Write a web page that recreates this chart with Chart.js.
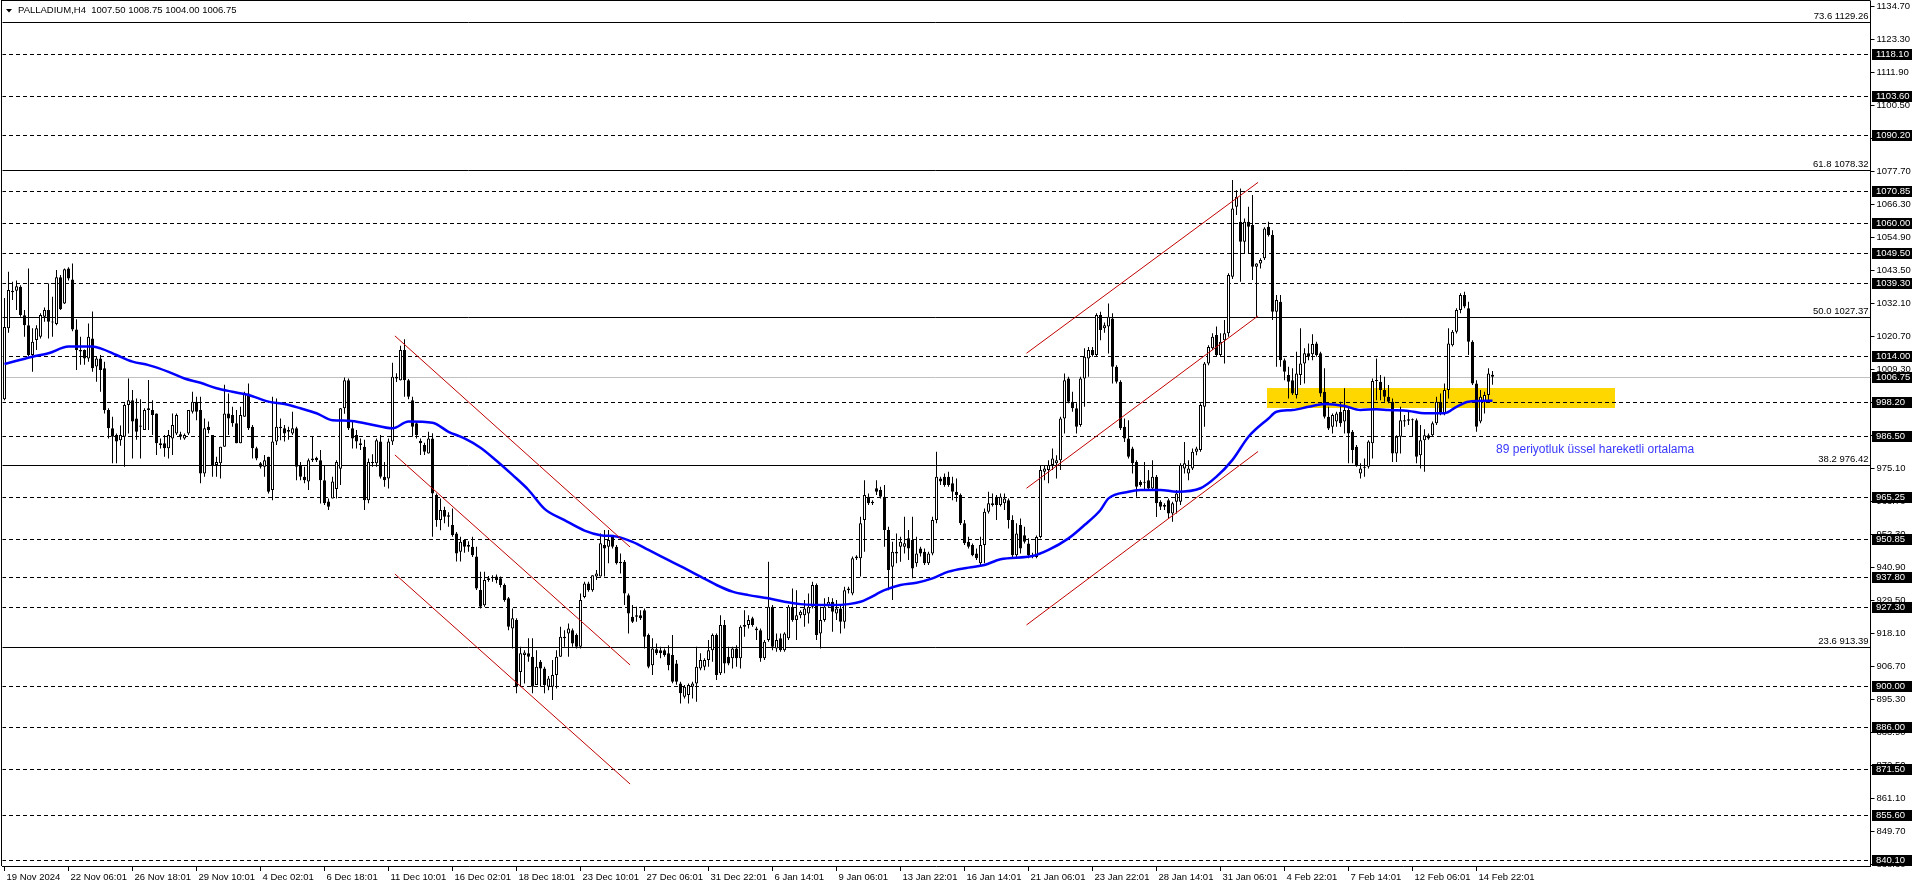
<!DOCTYPE html>
<html>
<head>
<meta charset="utf-8">
<title>PALLADIUM,H4</title>
<script src="https://cdn.jsdelivr.net/npm/chart.js@4.4.1/dist/chart.umd.min.js"></script>
<style>
  html, body { margin: 0; padding: 0; background: #fff; overflow: hidden; }
  canvas { display: block; }
</style>
</head>
<body>
<canvas id="chart" width="1916" height="888"></canvas>
<script>
// H4 candles, 19 Nov 2024 -> 14 Feb 2025
const opens = [
  999, 1023.5, 1036.5, 1036.5, 1037.9, 1028, 1024.6, 1014.3, 1019.5, 1020.6,
  1027.5, 1029.8, 1025.8, 1025, 1041.1, 1032.1, 1044.2, 1040.4, 1023.1, 1016,
  1016, 1013.1, 1020, 1010.3, 1013.1, 1009.7, 995.3, 989, 986.7, 984.9,
  986.1, 997, 998.7, 992.4, 990, 988.4, 995.3, 995.3, 994.1, 983.8,
  983.8, 982.1, 985.5, 987.2, 986.9, 985.5, 987.2, 994.7, 998.2, 995.3,
  973.4, 989.5, 986.7, 976.3, 976.9, 982.6, 994.1, 993.6, 990.7, 983.8,
  993, 1001, 989.5, 982.1, 976.9, 975.7, 979.2, 967.7, 984.4, 989,
  989, 988.4, 987.2, 989, 976.3, 972.3, 970.6, 978, 978.8, 978,
  971.1, 963.7, 964.8, 968, 975, 995.9, 1005.6, 989, 986.7, 983.8,
  982.6, 964.2, 977.4, 976.9, 984.4, 972.3, 971.7, 984.4, 1006.8, 1005.6,
  1016, 1005.6, 998.7, 990.7, 984.7, 983.2, 980.3, 985.5, 966, 957.3,
  960.8, 958.5, 955.6, 952.7, 946.4, 950.4, 948.1, 948.1, 944.7, 933.2,
  927.9, 936.6, 937.2, 937.8, 937.2, 934.9, 930.3, 919.9, 922.8, 904.9,
  910.7, 911.3, 910.1, 900.4, 908.4, 906.1, 899.8, 899.8, 903.8, 910.1,
  916.5, 918.2, 919.3, 917.6, 913.6, 930.8, 935.4, 933.1, 937.8, 937.8,
  948.7, 948.1, 951.6, 948.1, 942.9, 942.9, 931.4, 923.9, 923.9, 924.5,
  926.2, 917.6, 907.2, 912.7, 912.4, 912.4, 911.3, 910.7, 907.8, 900.9,
  896.3, 896.9, 899.8, 900.9, 906.1, 906.7, 909, 912.4, 917.6, 904.4,
  921.1, 910.1, 909.6, 913, 909.6, 920.5, 921.1, 923.4, 919.9, 919.3,
  909.6, 915.9, 927.4, 913, 916.5, 912.4, 916.5, 927.4, 922.8, 924.5,
  924.5, 925.1, 927.4, 934.9, 918.2, 922.8, 928, 929.1, 925.1, 926.8,
  922.2, 933.1, 932, 944.1, 944.1, 957.3, 965.4, 963.6, 968.3, 967.7,
  965.4, 953.9, 941.2, 945.8, 948.1, 948.1, 951, 950.4, 942.4, 947.5,
  946.4, 942.4, 945.8, 957.3, 971.7, 972.3, 972.3, 970, 967.1, 966,
  956.2, 949.8, 948.7, 945.8, 942.4, 948.7, 960.2, 962.5, 965.4, 962.5,
  963.1, 964.2, 957.3, 945.2, 955.6, 952.1, 949.2, 945.2, 944.6, 951.5,
  974, 974.6, 976.3, 976.9, 978, 992.4, 1006.2, 998.2, 995.9, 990.1,
  1006.2, 1013.1, 1016, 1014.3, 1028.1, 1023.5, 1024.1, 1026.9, 1010.2, 1005.1,
  989.5, 985.5, 982, 977.4, 970.5, 970.2, 971.1, 968.2, 972.3, 963.6,
  962.5, 964.2, 959.6, 963.6, 963.6, 975.1, 973.4, 975.1, 980.9, 981.5,
  996.4, 1011.4, 1016.6, 1021.2, 1014.3, 1019.4, 1021.8, 1041.3, 1065.5, 1060.3,
  1053.4, 1060.3, 1059.2, 1044.8, 1045.9, 1047.7, 1058.6, 1055.7, 1029.2, 1032.7,
  1012.5, 1007.4, 1005.6, 1000.5, 1007.4, 1011.4, 1014.9, 1014.6, 1018.3, 1014.9,
  1001.6, 993, 989.5, 991.3, 994.7, 991.3, 995.3, 987.8, 982.6, 973.4,
  975.4, 975.7, 983.8, 1005.3, 1005.1, 1002.2, 999.9, 998.2, 980.3, 986.1,
  991.3, 991.6, 992.1, 991.8, 979.7, 984.9, 986.6, 986.6, 990.7, 998.2,
  994.1, 1002.2, 1017.7, 1022.3, 1029.8, 1035, 1030.4, 1018.9, 1004.5, 991.3,
  998.2, 1000.5, 1007.5
]
const highs = [
  1034, 1043, 1039.6, 1040, 1038.4, 1029.8, 1044.2, 1023.5, 1024.6, 1028.7,
  1030.7, 1039, 1034.4, 1043.6, 1041.9, 1044.2, 1044.6, 1045.9, 1026.6, 1020.6,
  1016.2, 1025.2, 1029.3, 1013.7, 1014.3, 1012, 995.9, 993, 987.2, 990,
  997.6, 1006.2, 1002.2, 999.3, 999, 995.9, 1005.7, 998.7, 994.1, 985.5,
  986.7, 988.4, 994.1, 994.1, 987.8, 987.2, 995.3, 1001.6, 999.9, 999.9,
  992.4, 991.3, 986.7, 979.2, 982.6, 1004, 1001, 996.4, 995.3, 996.4,
  1001.6, 1004.5, 990.1, 982.6, 977.4, 979.8, 979.2, 999.9, 999.3, 992.4,
  990.1, 989.5, 994.7, 989.5, 977.4, 975.7, 978.6, 986, 979.2, 981.5,
  976.3, 964.8, 972.3, 978, 996, 1006.5, 1006.2, 991.3, 988.4, 985.5,
  985, 978.6, 980, 985.5, 986.7, 977.4, 985.5, 1011.6, 1008, 1017.5,
  1019.7, 1006, 999.9, 991.3, 985.5, 984, 987.8, 987.3, 966.5, 964.8,
  961.9, 960, 961.3, 953.2, 951.6, 950.4, 950, 951.6, 948.1, 939.5,
  939.5, 938, 938.3, 938.5, 937.8, 935.4, 930.8, 926.8, 923.4, 913.6,
  912.4, 916.5, 916.5, 912.4, 909, 906.7, 903.5, 909, 912.4, 920.5,
  919.3, 921.6, 919.9, 918.2, 932, 936, 936, 938.3, 940.1, 952.7,
  953.9, 953.9, 952.2, 948.7, 945.8, 943.5, 932, 928, 927.4, 926.2,
  926.8, 918.2, 916.5, 914.7, 913.6, 913, 914.1, 917.6, 909, 901.5,
  900.4, 900.9, 901.5, 913.6, 911.3, 909.6, 915.9, 918.2, 918.2, 924.5,
  922.8, 913.6, 913.6, 914.1, 921, 926.2, 924.5, 923.9, 920.5, 919.9,
  915.9, 942.9, 928, 918.2, 918.2, 918.6, 928, 933.7, 933.1, 926.2,
  929.7, 932, 936, 935.4, 927.4, 930.3, 930.8, 930.3, 929.7, 928,
  934.3, 934.3, 944.7, 945.2, 958.5, 971.1, 966.5, 964.2, 971.1, 968.8,
  969.4, 955, 949.8, 952.7, 951.6, 958.5, 953.9, 958.5, 951.6, 948.1,
  947.5, 946.4, 958.5, 980.9, 972.3, 973.4, 974, 972.3, 971.7, 966.5,
  957.3, 951.6, 949.2, 947.5, 951.6, 961.3, 967.1, 966.5, 966, 966.5,
  966.5, 964.8, 959, 956.2, 957.9, 955, 951, 946, 952, 976.3,
  976.3, 978, 982, 979.7, 993, 1007.9, 1006.8, 1001.6, 997.6, 1006.8,
  1016.6, 1017.1, 1017.1, 1028.7, 1029.2, 1025.5, 1032.1, 1028.7, 1010.8, 1005.6,
  992.4, 991.8, 982.6, 978, 971.1, 977.4, 974.6, 978, 972.9, 964.2,
  963.1, 964.8, 963.6, 967.7, 976.9, 984.3, 978, 982, 982.6, 997.6,
  1011.9, 1017.7, 1021.8, 1024.1, 1021.8, 1026.4, 1042.5, 1074.7, 1071.2, 1071.8,
  1061.4, 1065.5, 1069.5, 1046, 1047.7, 1058.4, 1060.3, 1057.4, 1035, 1035,
  1013.1, 1010.2, 1009.7, 1015.4, 1023.5, 1016.6, 1018.3, 1021.5, 1018.9, 1015.4,
  1009.7, 996.4, 994.1, 994.7, 998.2, 1002.8, 996.4, 988.4, 983.2, 976.9,
  978.6, 984.9, 1006.2, 1013.1, 1007.4, 1006.8, 1003.9, 999.3, 986.6, 996.4,
  993.6, 995.3, 992.4, 992.4, 990.1, 988.7, 987.2, 991.3, 999.9, 1001,
  1004.5, 1023.5, 1022.9, 1030.4, 1035.6, 1036.1, 1032.7, 1019.4, 1005.6, 1002.2,
  1001.6, 1009.7, 1008.75
]
const lows = [
  998.7, 1022, 1033.3, 1029.8, 1027.5, 1020.6, 1013.8, 1008.5, 1016, 1020,
  1025.8, 1020, 1020.6, 1024.6, 1029.8, 1031.9, 1040, 1022.5, 1009.1, 1010.9,
  1010.9, 1012, 1008.5, 1005.1, 1001.6, 994.1, 985.5, 976.9, 976.9, 983,
  975.7, 987.2, 978.6, 985, 978.6, 988.4, 988.4, 986.7, 979.8, 982,
  979.2, 978.6, 979.8, 986.7, 985, 985, 986.7, 994.1, 991.8, 970,
  972.3, 987.2, 972.3, 972.3, 971.7, 982.6, 986.7, 989.5, 983.8, 983.8,
  993, 988.4, 978.6, 978, 975.1, 972.3, 966.5, 964.2, 983.2, 984.9,
  984.4, 985, 986.7, 971.1, 971.1, 970, 967.7, 977.4, 977.4, 963,
  962.5, 960.8, 964.8, 964.8, 969.4, 994, 988.4, 982, 982, 981.5,
  960.8, 963.1, 975.7, 975.7, 971.7, 968.8, 968.2, 983.2, 1005, 1005.5,
  999.9, 999, 986.1, 985.5, 979.8, 979.8, 980.3, 951.6, 955, 953.8,
  956.2, 955, 951.6, 943, 943, 946, 946.4, 944.6, 933.2, 926.8,
  927.4, 936, 936, 935.5, 934, 929.1, 919.3, 913, 897.5, 899.8,
  900.9, 908.4, 897.5, 900.4, 899.8, 897.5, 898.6, 895.2, 899.2, 910.1,
  913.6, 910.1, 913.6, 913, 913, 930.3, 932.6, 932.6, 936.6, 937.8,
  937.8, 942.4, 947.5, 942, 938.9, 928, 918.2, 921.8, 922.2, 922.8,
  913, 906.2, 903.8, 910.7, 909.6, 910.1, 905.5, 901, 900.5, 894,
  895.7, 894, 895.7, 894.6, 905.5, 905.5, 906.7, 908.4, 902.1, 903.8,
  904.4, 907.2, 906.1, 906.7, 906.1, 917, 919.9, 920.5, 915.9, 908.4,
  909, 915.3, 912.4, 911.9, 911.9, 911.9, 915.9, 922.2, 915.9, 923.4,
  920.5, 921.6, 926.8, 915.9, 913, 922.2, 927.4, 918.8, 922.8, 918.2,
  919.9, 932, 931.4, 943.5, 937.8, 946.4, 962.5, 962.5, 966, 964.8,
  948.1, 933.1, 929.7, 942.4, 942.9, 945.8, 943.5, 937.2, 941.2, 944.7,
  941.8, 941.8, 945.2, 956.2, 969.4, 968.8, 968.8, 964.2, 963.6, 955.6,
  948.7, 947.5, 944.8, 943.5, 941.8, 942.4, 959.6, 962, 957.3, 962,
  960.8, 954.4, 944.6, 944.6, 945.8, 949.2, 944.1, 944.1, 944.1, 951,
  971.1, 970, 974.6, 971.7, 974.6, 987.2, 997.6, 994.7, 987.2, 989.5,
  996.4, 1006.8, 1013.7, 1013.7, 1019.4, 1022, 1014.8, 1004.5, 1004.5, 988.4,
  984.3, 978.6, 973.4, 965.4, 968.8, 967.7, 967.7, 967.7, 958.4, 960.8,
  960.8, 957.9, 956.7, 959.6, 962.5, 973.4, 971.1, 974.6, 979.7, 980.9,
  989.5, 1010.8, 1016, 1013.7, 1013.7, 1011.4, 1020.6, 1040.5, 1062.6, 1039.6,
  1049.4, 1049.4, 1040.2, 1027.5, 1044.2, 1047.1, 1055.2, 1026.4, 1010.2, 1010.2,
  1005.6, 999.3, 1000.5, 999.3, 1003.9, 1004.5, 1012.5, 1012.5, 1013.7, 999.9,
  992.4, 988.4, 987.2, 989.5, 989.5, 987.2, 976.9, 976.9, 975.7, 971.7,
  972.3, 975.1, 978.6, 998.7, 998.7, 998.2, 997.6, 977.4, 977.4, 980.3,
  989.5, 990.1, 986.1, 976.9, 975.1, 974, 985, 986.1, 990.1, 993.5,
  993.5, 999.3, 1017.2, 1021.7, 1028.7, 1030.4, 1014.3, 1003.9, 987.8, 990.7,
  994.1, 998.7, 1004
]
const closes = [
  1024, 1036.7, 1036, 1038, 1028.1, 1024.6, 1014.3, 1018.9, 1023.5, 1028.1,
  1029.8, 1025.8, 1025.5, 1041.1, 1030.1, 1043.9, 1040.7, 1023.1, 1016, 1015.5,
  1013.1, 1020.6, 1009.7, 1013.1, 1009.1, 995.3, 989, 986.1, 984.4, 986.7,
  997, 998.7, 991.3, 987.8, 989.5, 995.3, 995.9, 993.6, 983.8, 983.2,
  982.1, 986.7, 990.1, 993.6, 986.1, 986.7, 995.3, 998.2, 994.7, 973.4,
  989, 988.4, 976.3, 977.4, 982.6, 994.1, 992.4, 990.7, 983.8, 993.6,
  1001, 989, 982.1, 978.6, 975.7, 978, 967.1, 984.4, 989.5, 989.5,
  987.2, 987.8, 989, 975.7, 972.3, 971.1, 978, 978.6, 978, 971.1,
  963.1, 961.9, 970.6, 977.4, 995.9, 1005.6, 989, 985.5, 984.4, 983.2,
  964.2, 977.4, 976.9, 984.9, 972.3, 971.1, 984.4, 1006.8, 1006.2, 1016,
  1005.6, 999.9, 989.5, 986.7, 983.8, 980.9, 985.5, 966.5, 957.3, 960.8,
  958.5, 959, 952.2, 945.8, 949.8, 948.1, 948.7, 945.2, 933.7, 927.4,
  936.6, 937.2, 937.7, 936.6, 934.9, 929.7, 920.5, 923.4, 899.8, 911.3,
  911.6, 910.1, 899.8, 906.7, 906.1, 900.4, 902.6, 903.8, 910.1, 917,
  917, 919.9, 914.7, 913.6, 929.7, 935.4, 933.1, 938.3, 938.9, 949.3,
  947.5, 950.4, 948.1, 942.4, 942.4, 932, 925.1, 922.2, 924.5, 923.4,
  917, 906.7, 913, 911.3, 911.3, 910.7, 907.2, 901.5, 901.5, 897.5,
  899.8, 900.4, 900.9, 906.7, 909, 909, 912.4, 917.6, 903.8, 921.1,
  907.8, 907.8, 913, 909.6, 920.5, 921.1, 922.8, 921.1, 919.3, 909.6,
  915.3, 927.4, 913.6, 915.9, 912.4, 918.2, 927.4, 922.8, 924.5, 925.7,
  926.8, 927.4, 934.9, 917.6, 922.8, 927.4, 929.1, 925.7, 926.8, 922.2,
  933.1, 933.7, 944.1, 944.7, 956.2, 966, 963.1, 963.1, 967.1, 965.4,
  953.9, 940.1, 946.4, 946.4, 949.8, 949.3, 947.5, 940.6, 945.8, 945.8,
  942.4, 945.8, 957.3, 972.3, 970.6, 969.4, 969.4, 967.1, 966, 956.2,
  949.3, 948.1, 945.2, 944.1, 948.7, 960.2, 963.1, 963.1, 962.5, 965.4,
  964.8, 957.3, 945.2, 952.7, 947.5, 949.8, 945.2, 944.6, 951.5, 974.6,
  975.1, 976.3, 978.6, 978, 992.4, 1005.6, 998.2, 995.9, 989.5, 1006.2,
  1013.7, 1016, 1014.3, 1028.1, 1022.9, 1024.6, 1027.5, 1010.2, 1005.1, 989,
  985.5, 979.2, 976.9, 968.8, 969.4, 970.5, 968.2, 972.3, 963.1, 961.9,
  961.9, 959.6, 963.1, 966.5, 976.3, 976.9, 975.1, 980.9, 982, 997,
  1011.4, 1017.1, 1020.6, 1014.3, 1018.9, 1021.8, 1041.9, 1064.9, 1068.9, 1053.4,
  1060.3, 1058.6, 1044.8, 1045.9, 1047.1, 1058, 1055.7, 1029.2, 1033.3, 1012.5,
  1008.5, 1005.1, 1001, 1007.9, 1011.4, 1014.9, 1013.7, 1018.1, 1014.3, 1001,
  993, 988.9, 993.6, 994.1, 990.7, 995.3, 987.2, 981.5, 976.3, 975.1,
  975.7, 984.4, 1005.3, 1005.6, 1002.2, 999.9, 998.2, 980.3, 986.1, 991.8,
  991.8, 992.1, 991.8, 979.2, 984.9, 986.6, 985.5, 990.7, 998.2, 994.1,
  1002.2, 1018.3, 1022.3, 1029.8, 1035, 1031, 1018.9, 1004.5, 989.5, 999.9,
  1000.5, 1007.9, 1006.75
]

// 89 period EMA at these bars
const emaBars = [0, 7, 11, 16, 22, 24, 28, 32, 36, 41, 45, 49, 53, 57, 61, 66, 70, 74, 78, 82,
  86, 91, 97, 101, 107, 111, 115, 119, 123, 127, 131, 135, 140, 145, 149, 153, 157, 161, 166, 170,
  174, 178, 182, 186, 191, 195, 199, 207, 211, 214, 216, 220, 224, 228, 232, 236, 241, 245, 249, 257,
  261, 266, 270, 274, 276, 281, 284, 289, 293, 299, 303, 307, 311, 316, 318, 322, 326, 330, 335, 339,
  343, 346, 351, 355, 360, 363, 366, 372]
const emaValues = [1011.2, 1013.7, 1014.9, 1017.2, 1017.2, 1016.6, 1014.3, 1012, 1010.8, 1008.5,
  1006.2, 1004.7, 1002.8, 1001.6, 1000.5, 998.2, 997.4, 995.9, 994.2, 991.8,
  991.6, 990.5, 989, 991.3, 990.9, 987.8, 985.5, 982.3, 977.8, 972.9,
  967.7, 961.2, 957.3, 953.7, 952.1, 951.6, 949.8, 947, 943.5, 940.7,
  937.8, 934.9, 932.6, 931.4, 930.3, 929.1, 928.3, 928, 928.3, 929.1,
  930.3, 933.1, 934.9, 935.7, 937.2, 939.5, 940.9, 941.8, 943.8, 944.9,
  947, 951, 955.6, 960.8, 964.8, 967.1, 967.7, 967.7, 967.1, 968.3,
  972.3, 978.1, 986.1, 992.4, 994.7, 995.3, 996.4, 997.4, 996.7, 995.3,
  995.6, 995.3, 995, 994.2, 994.2, 996.4, 998.2, 998.5]

const timeLabels = ['19 Nov 2024', '22 Nov 06:01', '26 Nov 18:01', '29 Nov 10:01', '4 Dec 02:01',
  '6 Dec 18:01', '11 Dec 10:01', '16 Dec 02:01', '18 Dec 18:01', '23 Dec 10:01', '27 Dec 06:01',
  '31 Dec 22:01', '6 Jan 14:01', '9 Jan 06:01', '13 Jan 22:01', '16 Jan 14:01', '21 Jan 06:01',
  '23 Jan 22:01', '28 Jan 14:01', '31 Jan 06:01', '4 Feb 22:01', '7 Feb 14:01', '12 Feb 06:01',
  '14 Feb 22:01']
const labelStep = 16
const slotCount = 467

const priceTicks = [1134.70, 1123.30, 1111.90, 1100.50, 1089.10, 1077.70, 1066.30, 1054.90,
  1043.50, 1032.10, 1020.70, 1009.30, 997.90, 986.50, 975.10, 963.70, 952.30, 940.90, 929.50,
  918.10, 906.70, 895.30, 883.90, 872.50, 861.10, 849.70, 838.30]
const hLevels = [1118.10, 1103.60, 1090.20, 1070.85, 1060.00, 1049.50, 1039.30, 1014.00, 998.20,
  986.50, 965.25, 950.85, 937.80, 927.30, 900.00, 886.00, 871.50, 855.60, 840.10]
const fibLevels = [1129.26, 1078.32, 1027.37, 976.42, 913.39]
const fibNames = ['73.6', '61.8', '50.0', '38.2', '23.6']
const bidPrice = 1006.75
const header = 'PALLADIUM,H4  1007.50 1008.75 1004.00 1006.75'

// trend channels: [bar, price, bar, price]
const trendLines = [
  [97.6, 1020.9, 156.4, 948.0],
  [97.6, 979.8, 156.4, 907.3],
  [97.6, 938.7, 156.4, 866.2],
  [255.5, 1014.9, 313.4, 1073.9],
  [255.5, 968.3, 313.4, 1027.8],
  [255.5, 921.1, 313.4, 981.0]
]
const zone = [315.6, 402.6, 1002.9, 996.1]
const note = ['89 periyotluk üssel hareketli ortalama', 372.9, 981.5]

const FONT = "'Liberation Sans', Arial, sans-serif"
const SMALL = '9.5px ' + FONT
Chart.defaults.font.family = FONT
Chart.defaults.font.size = 9.5
Chart.defaults.color = '#000'

const slots = Array.from({ length: slotCount }, (_, i) => String(i))
const fill = arr => { const a = new Array(slotCount).fill(null); arr.forEach((v, i) => { a[i] = v }); return a }
const wickData = fill(highs.map((h, i) => [lows[i], h]))
const bodyData = fill(opens.map((o, i) => [o, closes[i]]))
const bodyColors = opens.map((o, i) => closes[i] >= o ? '#ffffff' : '#000000')
const emaData = new Array(slotCount).fill(null)
emaBars.forEach((b, k) => { emaData[b] = emaValues[k] })

const overlay = {
  id: 'overlay',
  beforeDatasetsDraw(chart) {
    const { ctx, chartArea: a, scales: { x, y } } = chart
    const py = v => Math.round(y.getPixelForValue(v)) + 0.5
    ctx.save()
    ctx.beginPath()
    ctx.rect(a.left, a.top, a.right - a.left, a.bottom - a.top)
    ctx.clip()
    // yellow zone
    const zx1 = Math.round(x.getPixelForValue(zone[0]))
    const zx2 = Math.round(x.getPixelForValue(zone[1]))
    const zy1 = Math.round(y.getPixelForValue(zone[2]))
    const zy2 = Math.round(y.getPixelForValue(zone[3]))
    ctx.fillStyle = '#ffd700'
    ctx.fillRect(zx1, zy1, zx2 - zx1, zy2 - zy1)
    ctx.lineWidth = 1
    ctx.strokeStyle = '#c0c0c0'
    ctx.beginPath()
    ctx.moveTo(0, py(bidPrice)); ctx.lineTo(a.right, py(bidPrice))
    ctx.stroke()
    ctx.strokeStyle = '#000'
    fibLevels.forEach(v => {
      ctx.beginPath(); ctx.moveTo(0, py(v)); ctx.lineTo(a.right, py(v)); ctx.stroke()
    })
    ctx.setLineDash([4, 3])
    hLevels.forEach(v => {
      ctx.beginPath(); ctx.moveTo(2, py(v)); ctx.lineTo(a.right, py(v)); ctx.stroke()
    })
    ctx.restore()
  },
  afterDatasetsDraw(chart) {
    const { ctx, chartArea: a, scales: { x, y } } = chart
    ctx.save()
    ctx.beginPath()
    ctx.rect(a.left, a.top, a.right - a.left, a.bottom - a.top)
    ctx.clip()
    ctx.strokeStyle = '#c00000'
    ctx.lineWidth = 1
    trendLines.forEach(t => {
      ctx.beginPath()
      ctx.moveTo(x.getPixelForValue(t[0]), y.getPixelForValue(t[1]))
      ctx.lineTo(x.getPixelForValue(t[2]), y.getPixelForValue(t[3]))
      ctx.stroke()
    })
    // fib labels
    ctx.fillStyle = '#000'
    ctx.font = SMALL
    ctx.textAlign = 'right'
    ctx.textBaseline = 'alphabetic'
    fibLevels.forEach((v, k) => {
      ctx.fillText(fibNames[k] + ' ' + v.toFixed(2), a.right - 2, Math.round(y.getPixelForValue(v)) - 3)
    })
    // EMA note
    ctx.fillStyle = '#3838ff'
    ctx.font = "12px 'Liberation Sans', Arial, sans-serif"
    ctx.textAlign = 'left'
    ctx.textBaseline = 'middle'
    ctx.fillText(note[0], x.getPixelForValue(note[1]), y.getPixelForValue(note[2]))
    ctx.restore()
  },
  afterDraw(chart) {
    const { ctx, chartArea: a, scales: { y } } = chart
    ctx.save()
    // frame
    ctx.fillStyle = '#000'
    ctx.fillRect(1, 0, a.right - 1, 1)
    ctx.fillRect(1, 0, 1, a.bottom)
    // header
    ctx.beginPath()
    ctx.moveTo(6, 9); ctx.lineTo(12, 9); ctx.lineTo(9, 12.5); ctx.closePath()
    ctx.fill()
    ctx.font = SMALL
    ctx.textAlign = 'left'
    ctx.textBaseline = 'middle'
    ctx.fillText(header, 18, 10.5)
    // price boxes on the axis
    hLevels.concat([bidPrice]).forEach(v => {
      const yy = Math.round(y.getPixelForValue(v))
      ctx.fillStyle = '#000'
      ctx.fillRect(Math.round(a.right) + 1, yy - 5, 40, 11)
      ctx.fillStyle = '#fff'
      ctx.fillText(v.toFixed(2), Math.round(a.right) + 5, yy + 0.5)
    })
    ctx.restore()
  }
}

new Chart(document.getElementById('chart'), {
  type: 'bar',
  data: {
    labels: slots,
    datasets: [
      {
        type: 'line',
        data: emaData,
        borderColor: '#0000ff',
        borderWidth: 2.5,
        pointRadius: 0,
        spanGaps: true,
        cubicInterpolationMode: 'monotone',
        order: 0
      },
      {
        data: bodyData,
        backgroundColor: bodyColors,
        borderColor: '#000',
        borderWidth: 1,
        borderSkipped: false,
        barThickness: 3,
        minBarLength: 1,
        inflateAmount: 0,
        grouped: false,
        order: 1
      },
      {
        data: wickData,
        backgroundColor: '#000',
        borderWidth: 0,
        barThickness: 1,
        inflateAmount: 0,
        grouped: false,
        order: 2
      }
    ]
  },
  options: {
    responsive: false,
    animation: false,
    devicePixelRatio: 1,
    events: [],
    layout: { padding: { left: 2.5, top: 1, right: 0, bottom: 0 }, autoPadding: false },
    plugins: { legend: { display: false }, tooltip: { enabled: false } },
    scales: {
      x: {
        type: 'category',
        offset: true,
        grid: { drawOnChartArea: false, offset: false, tickLength: 5, color: '#000' },
        border: { color: '#000' },
        ticks: {
          autoSkip: false,
          maxRotation: 0,
          align: 'start',
          labelOffset: 2,
          padding: 1,
          callback: v => timeLabels[v / labelStep]
        },
        afterBuildTicks: s => { s.ticks = timeLabels.map((t, k) => ({ value: k * labelStep })) },
        afterFit: s => { s.height = 22; s.paddingLeft = 0; s.paddingRight = 0 }
      },
      y: {
        position: 'right',
        min: 837.9,
        max: 1136.5,
        grid: { drawOnChartArea: false, tickLength: 4, color: '#000' },
        border: { color: '#000' },
        ticks: { autoSkip: false, padding: 2, callback: v => v.toFixed(2) },
        afterBuildTicks: s => { s.ticks = priceTicks.map(v => ({ value: v })) },
        afterFit: s => { s.width = 45.5; s.paddingTop = 0; s.paddingBottom = 0 }
      }
    }
  },
  plugins: [overlay]
})
</script>
</body>
</html>
